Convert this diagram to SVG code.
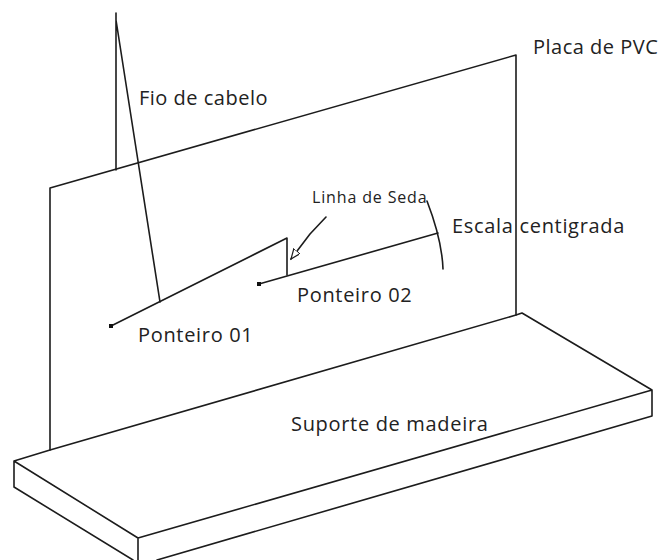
<svg xmlns="http://www.w3.org/2000/svg" width="662" height="560" viewBox="0 0 662 560">
<defs>
<style>
.l{fill:none;stroke:#1c1c1c;stroke-width:1.6;stroke-linecap:round;stroke-linejoin:round}
.t{font-family:"Open Sans","Noto Sans","Liberation Sans",sans-serif;font-size:20px;letter-spacing:.5px;fill:#222}
.w{letter-spacing:.68px}
.s{font-size:16px;letter-spacing:.85px}
</style>
<marker id="a" markerUnits="userSpaceOnUse" markerWidth="12" markerHeight="12" refX="10" refY="4" orient="auto"><path d="M0 0L10 4L0 8Z" fill="#fff" stroke="#1c1c1c" stroke-width="1.2"/></marker>
</defs>
<rect width="662" height="560" fill="#fff"/>
<g id="connectors">
<path class="l" d="M326 217L310 234L291 259" marker-end="url(#a)"/>
</g>
<g id="placa"><path class="l" d="M50 450V188L516 55V315"/><text class="t" x="533" y="54">Placa de PVC</text></g>
<g id="suporte"><path class="l" d="M50 450L14 461L138 538L652 390L522 313L516 315L50 450M14 461V487L133 560M138 538V560M652 390V416L157 560"/><text class="t w" x="291" y="431">Suporte de madeira</text></g>
<g id="fio"><path class="l" d="M116 13V170M116 20L160 302"/><text class="t" x="139" y="105">Fio de cabelo</text></g>
<g id="ponteiro1"><path class="l" d="M111 326L287 238V275"/><rect x="109" y="324" width="4" height="4" fill="#111"/><text class="t w" x="138" y="342">Ponteiro 01</text></g>
<g id="ponteiro2"><path class="l" d="M259 284L438 233"/><rect x="257" y="282" width="4" height="4" fill="#111"/><text class="t w" x="297" y="302">Ponteiro 02</text></g>
<g id="linha"><text class="t s" x="312" y="203">Linha de Seda</text></g>
<g id="escala"><path class="l" d="M427 201Q442 240 443 269"/><text class="t w" x="452" y="233">Escala centigrada</text></g>
</svg>
